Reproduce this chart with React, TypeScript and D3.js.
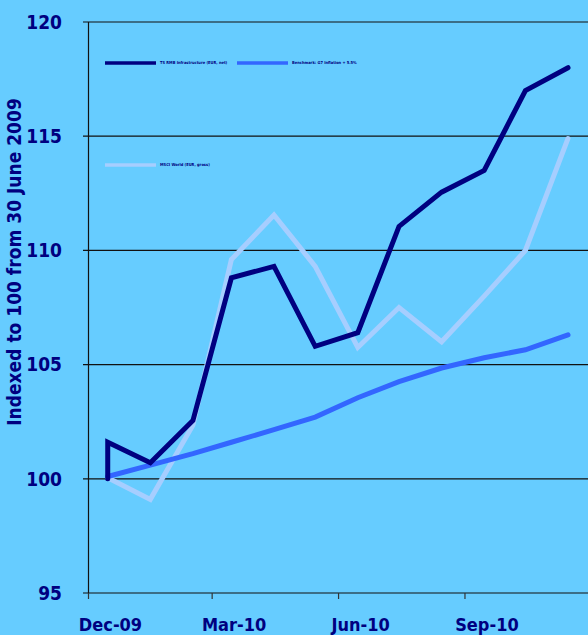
import { useEffect } from 'react';
import * as d3 from 'd3';

// monthly observation dates (mid-month)
const months = [
  '2009-12-15', '2010-01-15', '2010-02-15', '2010-03-15', '2010-04-15', '2010-05-15',
  '2010-06-15', '2010-07-15', '2010-08-15', '2010-09-15', '2010-10-15', '2010-11-15',
];

// fund line begins at the 100 base, then jumps to the Dec-09 value
const infraStart = 100;
const infraValues = [101.6, 100.7, 102.55, 108.8, 109.3, 105.8, 106.4, 111.05, 112.55, 113.5, 117.0, 118.0];
const benchmarkValues = [100.1, 100.6, 101.1, 101.6, 102.15, 102.7, 103.55, 104.25, 104.85, 105.3, 105.65, 106.3];
const msciValues = [100.05, 99.1, 102.35, 109.6, 111.55, 109.3, 105.75, 107.5, 106.0, 108.0, 110.0, 114.9];

const seriesNames = ['TS RMB Infrastructure (EUR, net)', 'Benchmark: G7 Inflation + 5.5%', 'MSCI World (EUR, gross)'];
const yTicks = [95, 100, 105, 110, 115, 120];
const xTickDates = ['2009-12-01', '2010-03-01', '2010-06-01', '2010-09-01'];
const xTickLabels = ['Dec-09', 'Mar-10', 'Jun-10', 'Sep-10'];

const W = 588;
const H = 635;
const BG = '#66CCFF';
const NAVY = '#000080';
const FONT = '"Liberation Sans Narrow", "DejaVu Sans Condensed", sans-serif';

const parse = d3.timeParse('%Y-%m-%d');

export default function App() {
  useEffect(() => {
    document.body.style.margin = '0';
    document.body.style.background = BG;
  }, []);

  const x = d3.scaleTime()
    .domain([parse('2009-12-01')!, parse('2010-12-01')!])
    .range([88.5, 590]);
  const y = d3.scaleLinear().domain([95, 120]).range([593, 22]);

  const line = d3.line<[Date, number]>()
    .x(d => x(d[0]))
    .y(d => y(d[1]));

  const dates = months.map(m => parse(m)!);
  const infraPts: [Date, number][] = [[dates[0], infraStart], ...infraValues.map((v, i) => [dates[i], v] as [Date, number])];
  const benchPts: [Date, number][] = benchmarkValues.map((v, i) => [dates[i], v]);
  const msciPts: [Date, number][] = msciValues.map((v, i) => [dates[i], v]);

  const series = [
    { name: seriesNames[2], pts: msciPts, color: '#A6CEFF' },
    { name: seriesNames[1], pts: benchPts, color: '#3366FF' },
    { name: seriesNames[0], pts: infraPts, color: NAVY },
  ];

  const legend = [
    { name: seriesNames[0], color: NAVY, x: 105, y: 63 },
    { name: seriesNames[1], color: '#3366FF', x: 237, y: 63 },
    { name: seriesNames[2], color: '#A6CEFF', x: 105, y: 165 },
  ];

  return (
    <svg width={W} height={H} style={{ display: 'block', background: BG }}>
      <rect x={0} y={0} width={W} height={H} fill={BG} />

      {/* horizontal gridlines and y ticks */}
      {yTicks.map(t => (
        <g key={t}>
          <line x1={83} x2={W} y1={y(t)} y2={y(t)} stroke="#111" strokeWidth={1.2} />
          <text x={62} y={y(t)} dy="0.36em" textAnchor="end" fill={NAVY}
            fontFamily={FONT} fontWeight="bold" fontSize={19}>{t}</text>
        </g>
      ))}

      {/* y axis */}
      <line x1={88.5} x2={88.5} y1={y(120)} y2={y(95)} stroke="#111" strokeWidth={1.2} />

      {/* x ticks and labels */}
      {xTickDates.map((d, i) => {
        const px = x(parse(d)!);
        return (
          <g key={d}>
            <line x1={px} x2={px} y1={y(95)} y2={y(95) + 6} stroke="#333" strokeWidth={1.2} />
            <text x={px + 22} y={631} textAnchor="middle" fill={NAVY}
              fontFamily={FONT} fontWeight="bold" fontSize={18}>{xTickLabels[i]}</text>
          </g>
        );
      })}

      {/* y axis title */}
      <text transform={`translate(21,262) rotate(-90)`} textAnchor="middle" fill={NAVY}
        fontFamily={FONT} fontWeight="bold" fontSize={19}>Indexed to 100 from 30 June 2009</text>

      {/* series */}
      {series.map(s => (
        <path key={s.name} d={line(s.pts) ?? ''} fill="none" stroke={s.color}
          strokeWidth={5} strokeLinejoin="miter" strokeLinecap="round" />
      ))}

      {/* legend */}
      {legend.map(l => (
        <g key={l.name}>
          <line x1={l.x} x2={l.x + 51} y1={l.y} y2={l.y} stroke={l.color} strokeWidth={3.5} />
          <text x={l.x + 55} y={l.y} dy="0.35em" fill={NAVY} fontFamily={FONT}
            fontWeight="bold" fontSize={4}>{l.name}</text>
        </g>
      ))}
    </svg>
  );
}
